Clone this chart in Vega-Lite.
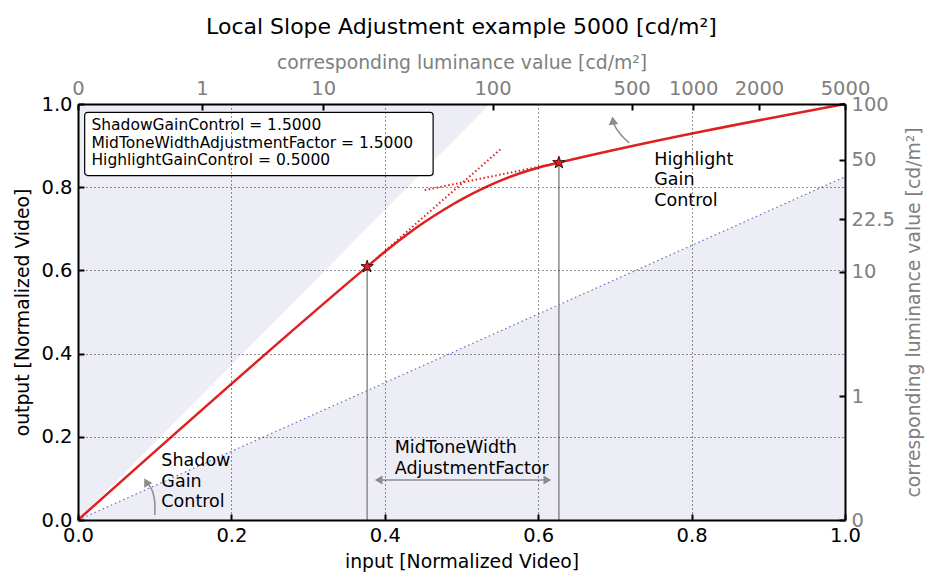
{
  "$schema": "https://vega.github.io/schema/vega-lite/v6.json",
  "width": 767,
  "height": 416,
  "autosize": {"type": "none"},
  "padding": {"left": 78, "top": 104, "right": 83, "bottom": 53},
  "background": "white",
  "title": {"text": "Local Slope Adjustment example 5000 [cd/m²]", "fontSize": 22, "fontWeight": "normal", "font": "DejaVu Sans", "color": "black", "anchor": "middle", "offset": 14},
  "config": {
    "font": "DejaVu Sans",
    "view": {"stroke": null},
    "axis": {
      "domainColor": "black", "domainWidth": 2, "tickColor": "black", "tickWidth": 2, "tickSize": -6,
      "labelPadding": 12, "labelFontSize": 19.5, "labelColor": "black", "labelFont": "DejaVu Sans",
      "titleFont": "DejaVu Sans", "titleFontSize": 18.8, "titleFontWeight": "normal", "titleColor": "black",
      "labelFlush": false, "labelOverlap": false,
      "gridColor": "black", "gridDash": [1, 3], "gridWidth": 1, "gridOpacity": 0.85
    }
  },
  "datasets": {
    "shade": [
      {"g": "upper", "x": 0, "lo": 0, "hi": 1},
      {"g": "upper", "x": 0.537, "lo": 1, "hi": 1},
      {"g": "lower", "x": 0, "lo": 0, "hi": 0},
      {"g": "lower", "x": 1, "lo": 0, "hi": 0.825}
    ],
    "refline": [{"x": 0, "y": 0}, {"x": 1, "y": 0.825}],
    "curve": [
      {"x": 0, "y": 0},
      {"x": 0.377, "y": 0.609},
      {"x": 0.4022, "y": 0.648},
      {"x": 0.4273, "y": 0.684},
      {"x": 0.4524, "y": 0.7168},
      {"x": 0.4775, "y": 0.7464},
      {"x": 0.5025, "y": 0.773},
      {"x": 0.5275, "y": 0.7964},
      {"x": 0.5524, "y": 0.8168},
      {"x": 0.5773, "y": 0.834},
      {"x": 0.6022, "y": 0.848},
      {"x": 0.627, "y": 0.859},
      {"x": 1, "y": 1}
    ],
    "tangents": [
      {"s": "shadow", "x": 0.377, "y": 0.609},
      {"s": "shadow", "x": 0.552, "y": 0.893},
      {"s": "highlight", "x": 0.452, "y": 0.793},
      {"s": "highlight", "x": 0.627, "y": 0.859}
    ],
    "knees": [{"x": 0.377, "y": 0.609}, {"x": 0.627, "y": 0.859}],
    "arcs": [
      {"a": "shadow", "i": 0, "x": 0.1002, "y": 0.012},
      {"a": "shadow", "i": 1, "x": 0.1002, "y": 0.041},
      {"a": "shadow", "i": 2, "x": 0.0981, "y": 0.0626},
      {"a": "shadow", "i": 3, "x": 0.0942, "y": 0.0794},
      {"a": "shadow", "i": 4, "x": 0.089, "y": 0.0915},
      {"a": "highlight", "i": 0, "x": 0.7187, "y": 0.9066},
      {"a": "highlight", "i": 1, "x": 0.7118, "y": 0.9182},
      {"a": "highlight", "i": 2, "x": 0.7043, "y": 0.9346},
      {"a": "highlight", "i": 3, "x": 0.6994, "y": 0.9495},
      {"a": "highlight", "i": 4, "x": 0.6974, "y": 0.9603}
    ],
    "widthArrow": [{"x": 0.392, "x2": 0.612, "y": 0.096}],
    "labels": [
      {"x": 0.1087, "y": 0.142, "t": "Shadow"},
      {"x": 0.1087, "y": 0.0922, "t": "Gain"},
      {"x": 0.1087, "y": 0.044, "t": "Control"},
      {"x": 0.413, "y": 0.1726, "t": "MidToneWidth"},
      {"x": 0.413, "y": 0.122, "t": "AdjustmentFactor"},
      {"x": 0.7513, "y": 0.866, "t": "Highlight"},
      {"x": 0.7513, "y": 0.8166, "t": "Gain"},
      {"x": 0.7513, "y": 0.766, "t": "Control"}
    ],
    "box": [{"x": 0.0087, "x2": 0.463, "y": 0.828, "y2": 0.98}],
    "params": [
      {"x": 0.0175, "y": 0.949, "t": "ShadowGainControl = 1.5000"},
      {"x": 0.0175, "y": 0.9066, "t": "MidToneWidthAdjustmentFactor = 1.5000"},
      {"x": 0.0175, "y": 0.8648, "t": "HighlightGainControl = 0.5000"}
    ]
  },
  "layer": [
    {
      "data": {"name": "shade"},
      "mark": {"type": "area", "color": "#ededf5", "opacity": 1},
      "encoding": {
        "x": {"field": "x", "type": "quantitative", "scale": {"domain": [0, 1], "nice": false, "zero": false},
          "axis": {"orient": "bottom", "title": "input [Normalized Video]", "values": [0, 0.2, 0.4, 0.6, 0.8, 1], "format": ".1f", "grid": true, "zindex": 1, "titlePadding": 8}},
        "y": {"field": "lo", "type": "quantitative", "scale": {"domain": [0, 1], "nice": false, "zero": false},
          "axis": {"orient": "left", "title": "output [Normalized Video]", "values": [0, 0.2, 0.4, 0.6, 0.8, 1], "format": ".1f", "grid": true, "zindex": 1, "titlePadding": 8}},
        "y2": {"field": "hi"},
        "detail": {"field": "g"}
      }
    },
    {
      "data": {"name": "refline"},
      "mark": {"type": "line", "color": "#6a6ac0", "strokeWidth": 1.2, "strokeDash": [1.5, 3]},
      "encoding": {
        "x": {"field": "x", "type": "quantitative",
          "axis": {"orient": "top", "title": "corresponding luminance value [cd/m²]", "titleColor": "#808080", "labelColor": "#808080", "grid": false, "zindex": 1,
            "values": [0, 0.1617, 0.3196, 0.5405, 0.7218, 0.8021, 0.8878, 1.0],
            "labelExpr": "datum.value < 0.05 ? '0' : datum.value < 0.2 ? '1' : datum.value < 0.4 ? '10' : datum.value < 0.6 ? '100' : datum.value < 0.75 ? '500' : datum.value < 0.85 ? '1000' : datum.value < 0.95 ? '2000' : '5000'", "titlePadding": 6}},
        "y": {"field": "y", "type": "quantitative",
          "axis": {"orient": "right", "title": "corresponding luminance value [cd/m²]", "titleColor": "#808080", "labelColor": "#808080", "grid": false, "zindex": 1, "titleAngle": 270,
            "values": [0, 0.298, 0.597, 0.723, 0.866, 1.0],
            "labelExpr": "datum.value < 0.1 ? '0' : datum.value < 0.4 ? '1' : datum.value < 0.65 ? '10' : datum.value < 0.8 ? '22.5' : datum.value < 0.95 ? '50' : '100'", "titlePadding": 29}}
      }
    },
    {
      "data": {"name": "knees"},
      "mark": {"type": "rule", "color": "#8c8c8c", "strokeWidth": 1.5},
      "encoding": {
        "x": {"field": "x", "type": "quantitative", "axis": null},
        "y": {"field": "y", "type": "quantitative", "axis": null},
        "y2": {"datum": 0}
      }
    },
    {
      "data": {"name": "widthArrow"},
      "mark": {"type": "rule", "color": "#8c8c8c", "strokeWidth": 1.5},
      "encoding": {
        "x": {"field": "x", "type": "quantitative", "axis": null},
        "x2": {"field": "x2"},
        "y": {"field": "y", "type": "quantitative", "axis": null}
      }
    },
    {
      "data": {"name": "widthArrow"},
      "mark": {"type": "point", "shape": "triangle-left", "filled": true, "color": "#8c8c8c", "size": 80, "opacity": 1},
      "encoding": {
        "x": {"field": "x", "type": "quantitative", "axis": null},
        "y": {"field": "y", "type": "quantitative", "axis": null}
      }
    },
    {
      "data": {"name": "widthArrow"},
      "mark": {"type": "point", "shape": "triangle-right", "filled": true, "color": "#8c8c8c", "size": 80, "opacity": 1},
      "encoding": {
        "x": {"field": "x2", "type": "quantitative", "axis": null},
        "y": {"field": "y", "type": "quantitative", "axis": null}
      }
    },
    {
      "data": {"name": "arcs"},
      "mark": {"type": "line", "color": "#8c8c8c", "strokeWidth": 1.5, "interpolate": "monotone"},
      "encoding": {
        "x": {"field": "x", "type": "quantitative", "axis": null},
        "y": {"field": "y", "type": "quantitative", "axis": null},
        "detail": {"field": "a"},
        "order": {"field": "i"}
      }
    },
    {
      "data": {"name": "arcs"},
      "transform": [{"filter": "datum.a == 'shadow' && datum.i == 4"}],
      "mark": {"type": "point", "shape": "triangle-up", "filled": true, "color": "#8c8c8c", "size": 90, "opacity": 1, "angle": 330},
      "encoding": {
        "x": {"field": "x", "type": "quantitative", "axis": null},
        "y": {"field": "y", "type": "quantitative", "axis": null}
      }
    },
    {
      "data": {"name": "arcs"},
      "transform": [{"filter": "datum.a == 'highlight' && datum.i == 4"}],
      "mark": {"type": "point", "shape": "triangle-up", "filled": true, "color": "#8c8c8c", "size": 90, "opacity": 1, "angle": 352},
      "encoding": {
        "x": {"field": "x", "type": "quantitative", "axis": null},
        "y": {"field": "y", "type": "quantitative", "axis": null}
      }
    },
    {
      "data": {"name": "tangents"},
      "mark": {"type": "line", "color": "#e02020", "strokeWidth": 2, "strokeDash": [1.5, 2.5]},
      "encoding": {
        "x": {"field": "x", "type": "quantitative", "axis": null},
        "y": {"field": "y", "type": "quantitative", "axis": null},
        "detail": {"field": "s"}
      }
    },
    {
      "data": {"name": "curve"},
      "mark": {"type": "line", "color": "#e02020", "strokeWidth": 2.5, "interpolate": "monotone"},
      "encoding": {
        "x": {"field": "x", "type": "quantitative", "axis": null},
        "y": {"field": "y", "type": "quantitative", "axis": null}
      }
    },
    {
      "data": {"name": "knees"},
      "mark": {"type": "point", "shape": "M0,-1L0.2245,-0.309L0.951,-0.309L0.363,0.118L0.588,0.809L0,0.382L-0.588,0.809L-0.363,0.118L-0.951,-0.309L-0.2245,-0.309Z", "filled": true, "fill": "#e02020", "stroke": "#3a1010", "strokeWidth": 1, "size": 170, "opacity": 1},
      "encoding": {
        "x": {"field": "x", "type": "quantitative", "axis": null},
        "y": {"field": "y", "type": "quantitative", "axis": null}
      }
    },
    {
      "data": {"name": "labels"},
      "mark": {"type": "text", "align": "left", "baseline": "middle", "fontSize": 17.5, "font": "DejaVu Sans", "color": "black"},
      "encoding": {
        "x": {"field": "x", "type": "quantitative", "axis": null},
        "y": {"field": "y", "type": "quantitative", "axis": null},
        "text": {"field": "t"}
      }
    },
    {
      "data": {"name": "box"},
      "mark": {"type": "rect", "fill": "white", "stroke": "black", "strokeWidth": 1.2, "cornerRadius": 3},
      "encoding": {
        "x": {"field": "x", "type": "quantitative", "axis": null},
        "x2": {"field": "x2"},
        "y": {"field": "y", "type": "quantitative", "axis": null},
        "y2": {"field": "y2"}
      }
    },
    {
      "data": {"name": "params"},
      "mark": {"type": "text", "align": "left", "baseline": "middle", "fontSize": 15.5, "font": "DejaVu Sans", "color": "black"},
      "encoding": {
        "x": {"field": "x", "type": "quantitative", "axis": null},
        "y": {"field": "y", "type": "quantitative", "axis": null},
        "text": {"field": "t"}
      }
    }
  ],
  "resolve": {"axis": {"x": "independent", "y": "independent"}}
}
